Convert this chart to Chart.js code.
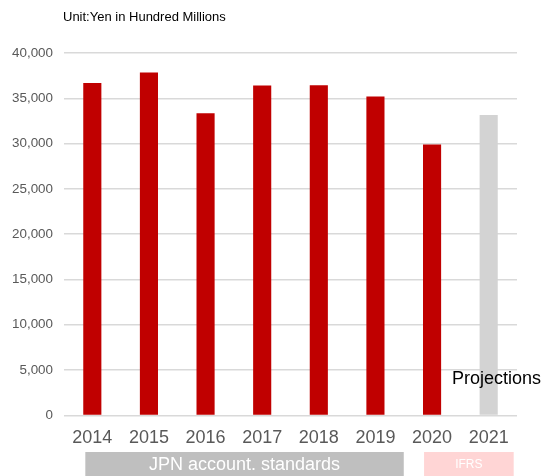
<!DOCTYPE html>
<html>
<head>
<meta charset="utf-8">
<script src="https://cdn.jsdelivr.net/npm/chart.js@4"></script>
<style>
html,body{margin:0;padding:0;background:#fff;}
#wrap{width:544px;height:476px;position:relative;}
</style>
</head>
<body>
<div id="wrap"><canvas id="c" width="544" height="476"></canvas></div>
<script>
const categories = ['2014','2015','2016','2017','2018','2019','2020','2021'];
const revenue = [36700, 37850, 33350, 36400, 36450, 35200, 29900, 33150];
const projectionYears = ['2021'];
const yTicks = [0, 5000, 10000, 15000, 20000, 25000, 30000, 35000, 40000];
const unitLabel = 'Unit:Yen in Hundred Millions';
const projectionLabel = 'Projections';
const bandLabels = ['JPN account. standards', 'IFRS'];
const bandYears = [['2014', '2019'], ['2020', '2021']];

const FONT = '"Liberation Sans", Arial, sans-serif';

const overlay = {
  id: 'overlay',
  afterDraw(chart) {
    const ctx = chart.ctx;
    const x = chart.scales.x, y = chart.scales.y;
    const step = x.getPixelForValue(1) - x.getPixelForValue(0);
    ctx.save();
    // unit title
    ctx.fillStyle = '#000';
    ctx.font = '13px ' + FONT;
    ctx.textAlign = 'left';
    ctx.textBaseline = 'middle';
    ctx.fillText(unitLabel, 63, 17);
    // projections label
    ctx.font = '18px ' + FONT;
    ctx.fillText(projectionLabel, 452, y.getPixelForValue(4000));
    // bands
    const bandTop = 452, bandBottom = 476;
    const b0s = x.getPixelForValue(categories.indexOf(bandYears[0][0])) - 7;
    const b0e = x.getPixelForValue(categories.indexOf(bandYears[0][1])) + step / 2;
    ctx.fillStyle = '#bfbfbf';
    ctx.fillRect(b0s, bandTop, b0e - b0s, bandBottom - bandTop);
    ctx.fillStyle = '#fff';
    ctx.textAlign = 'center';
    ctx.font = '18px ' + FONT;
    ctx.fillText(bandLabels[0], (b0s + b0e) / 2, (bandTop + bandBottom) / 2 + 1);
    const b1s = x.getPixelForValue(categories.indexOf(bandYears[1][0])) - 8;
    const b1e = x.getPixelForValue(categories.indexOf(bandYears[1][1])) + 25;
    ctx.fillStyle = '#ffd5d5';
    ctx.fillRect(b1s, bandTop, b1e - b1s, bandBottom - bandTop);
    ctx.fillStyle = '#fff';
    ctx.font = '12px ' + FONT;
    ctx.fillText(bandLabels[1], (b1s + b1e) / 2, (bandTop + bandBottom) / 2 + 1);
    ctx.restore();
  }
};

new Chart(document.getElementById('c'), {
  type: 'bar',
  data: {
    labels: categories,
    datasets: [{
      data: revenue,
      backgroundColor: ctx => projectionYears.includes(categories[ctx.index]) ? '#d3d3d3' : '#c00000',
      barPercentage: 0.64,
      categoryPercentage: 0.5
    }]
  },
  options: {
    responsive: false,
    animation: false,
    devicePixelRatio: 1,
    layout: { padding: { top: 53, right: 27, bottom: 15, left: 0 } },
    plugins: { legend: { display: false }, tooltip: { enabled: false } },
    scales: {
      x: {
        grid: { display: false, drawTicks: false },
        border: { display: false },
        ticks: { color: '#595959', font: { family: FONT, size: 18 }, padding: 12 }
      },
      y: {
        min: 0, max: 40000,
        afterFit(scale) { scale.width = 64; },
        afterBuildTicks(scale) { scale.ticks = yTicks.map(v => ({ value: v })); },
        grid: { color: '#d9d9d9', lineWidth: 1.5, drawTicks: false },
        border: { display: false },
        ticks: {
          color: '#595959', font: { family: FONT, size: 13.4 }, padding: 11,
          callback: v => v.toLocaleString('en-US')
        }
      }
    }
  },
  plugins: [overlay]
});
</script>
</body>
</html>
